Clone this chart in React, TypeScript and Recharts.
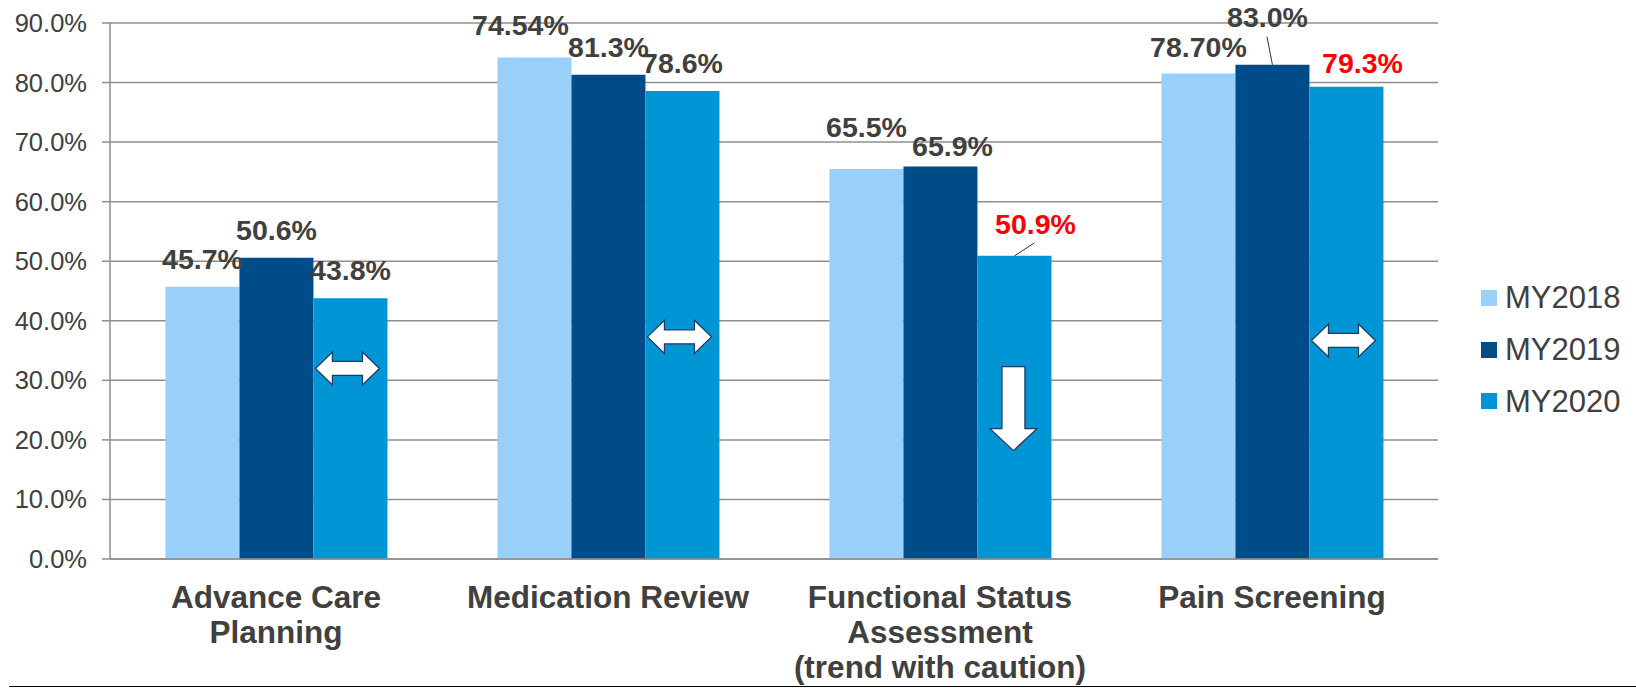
import React from 'react';
import { BarChart, Bar, XAxis, YAxis, CartesianGrid, LabelList } from 'recharts';

const categories = [
  'Advance Care\nPlanning',
  'Medication Review',
  'Functional Status\nAssessment\n(trend with caution)',
  'Pain Screening',
];

// bar heights as drawn
const my2018 = [45.7, 84.2, 65.5, 81.5];
const my2019 = [50.6, 81.3, 65.9, 83.0];
const my2020 = [43.8, 78.6, 50.9, 79.3];

// printed labels (some differ from the drawn bars)
const labels2018 = ['45.7%', '74.54%', '65.5%', '78.70%'];
const labels2019 = ['50.6%', '81.3%', '65.9%', '83.0%'];
const labels2020 = ['43.8%', '78.6%', '50.9%', '79.3%'];

// trend markers drawn on the MY2020 bars: kind and level in axis units
const trendKinds = ['both', 'both', 'down', 'both'];
const trendLevels = [32.0, 37.3, 32.3, 36.7];

const yTicks = [0, 10, 20, 30, 40, 50, 60, 70, 80, 90];

const seriesNames = ['MY2018', 'MY2019', 'MY2020'];
const colors = ['#99D0FA', '#004C88', '#0095D4'];

const data = categories.map((c, i) => ({
  category: c,
  y2018: my2018[i],
  y2019: my2019[i],
  y2020: my2020[i],
  l2018: labels2018[i],
  l2019: labels2019[i],
  l2020: labels2020[i],
}));

const FONT = '"Liberation Sans", Arial, sans-serif';
const TEXT = '#404040';

// hand placement of the data labels (dx from bar centre, gap above bar top)
const nudges: Record<string, { dx: number; gap: number; red?: boolean; leader?: [number, number] }[]> = {
  l2018: [{ dx: 0, gap: 18 }, { dx: -14, gap: 23 }, { dx: 0, gap: 32 }, { dx: 0, gap: 17 }],
  l2019: [{ dx: 0, gap: 18 }, { dx: 0, gap: 18 }, { dx: 12, gap: 11 }, { dx: -5, gap: 38, leader: [-5.5, -28] }],
  l2020: [{ dx: 0, gap: 18 }, { dx: 0, gap: 18 }, { dx: 21, gap: 22, red: true, leader: [20, -13] }, { dx: 16, gap: 14, red: true }],
};

const makeLabel = (key: string) => (props: any) => {
  const vb = props.viewBox || {};
  const x = props.x ?? vb.x;
  const y = props.y ?? vb.y;
  const width = props.width ?? vb.width;
  const idx = props.index ?? 0;
  const n = nudges[key][idx];
  const cx = x + width / 2;
  return (
    <g>
      {n.leader && (
        <line x1={cx + n.leader[0]} y1={y + n.leader[1]} x2={cx} y2={y} stroke="#333" strokeWidth={1} />
      )}
      <text
        x={cx + n.dx}
        y={y - n.gap}
        textAnchor="middle"
        fontFamily={FONT}
        fontWeight="bold"
        fontSize={28.5}
        fill={n.red ? '#FF0000' : TEXT}
      >
        {props.value}
      </text>
    </g>
  );
};

const TrendMark = (props: any) => {
  const vb = props.viewBox || {};
  const x = props.x ?? vb.x;
  const y = props.y ?? vb.y;
  const width = props.width ?? vb.width;
  const height = props.height ?? vb.height;
  const idx = props.index ?? 0;
  const value = my2020[idx];
  const px = height / value;
  const bottom = y + height;
  const cx = x + width / 2;
  const stroke = '#1d3c63';
  if (trendKinds[idx] === 'down') {
    const top = bottom - trendLevels[idx] * px;
    const len = 84;
    const headH = 22;
    const w = 47;
    const sw = 23;
    const x0 = cx - 1;
    const d = `M${x0 - sw / 2},${top} L${x0 + sw / 2},${top} L${x0 + sw / 2},${top + len - headH} L${x0 + w / 2},${top + len - headH} L${x0},${top + len} L${x0 - w / 2},${top + len - headH} L${x0 - sw / 2},${top + len - headH} Z`;
    return <path d={d} fill="#fff" stroke={stroke} strokeWidth={1.3} />;
  }
  const cy = bottom - trendLevels[idx] * px;
  const w = 64;
  const h = 33;
  const sh = 14;
  const head = 17;
  const x0 = cx - 3;
  const l = x0 - w / 2;
  const r = x0 + w / 2;
  const d = `M${l},${cy} L${l + head},${cy - h / 2} L${l + head},${cy - sh / 2} L${r - head},${cy - sh / 2} L${r - head},${cy - h / 2} L${r},${cy} L${r - head},${cy + h / 2} L${r - head},${cy + sh / 2} L${l + head},${cy + sh / 2} L${l + head},${cy + h / 2} Z`;
  return <path d={d} fill="#fff" stroke={stroke} strokeWidth={1.3} />;
};

const CategoryTick = (props: any) => {
  const { x, y, payload } = props;
  const lines = String(payload.value).split('\n');
  return (
    <g>
      {lines.map((ln, i) => (
        <text
          key={i}
          x={x}
          y={y + 47 + i * 35}
          textAnchor="middle"
          fontFamily={FONT}
          fontWeight="bold"
          fontSize={31.5}
          fill={TEXT}
        >
          {ln}
        </text>
      ))}
    </g>
  );
};

export default function App() {
  return (
    <div style={{ position: 'absolute', left: 0, top: 0, width: 1636, height: 688, background: '#fff', fontFamily: FONT }}>
      <BarChart
        width={1636}
        height={688}
        data={data}
        margin={{ top: 23, right: 198, bottom: 0, left: 0 }}
        barCategoryGap="16.7%"
        barGap={0}
      >
        <CartesianGrid vertical={false} stroke="#8e8e8e" strokeWidth={1.5} />
        <XAxis
          xAxisId="edges"
          type="number"
          domain={[0, 4]}
          ticks={[0, 1, 2, 3, 4]}
          height={0}
          tick={false}
          tickSize={9}
          axisLine={false}
          tickLine={{ stroke: '#8e8e8e', strokeWidth: 1.5 }}
        />
        <XAxis
          dataKey="category"
          height={129}
          interval={0}
          tickLine={false}
          tickSize={0}
          axisLine={{ stroke: '#8e8e8e', strokeWidth: 1.5 }}
          tick={<CategoryTick />}
        />
        <YAxis
          width={110}
          domain={[0, 90]}
          ticks={yTicks}
          interval={0}
          tickSize={8}
          tickMargin={15}
          tickFormatter={(v: number) => v.toFixed(1) + '%'}
          axisLine={{ stroke: '#8e8e8e', strokeWidth: 1.5 }}
          tickLine={{ stroke: '#8e8e8e', strokeWidth: 1.5 }}
          tick={{ fill: TEXT, fontSize: 25.5, fontFamily: FONT }}
        />
        <Bar dataKey="y2018" name={seriesNames[0]} fill={colors[0]} isAnimationActive={false}>
          <LabelList dataKey="l2018" content={makeLabel('l2018')} />
        </Bar>
        <Bar dataKey="y2019" name={seriesNames[1]} fill={colors[1]} isAnimationActive={false}>
          <LabelList dataKey="l2019" content={makeLabel('l2019')} />
        </Bar>
        <Bar dataKey="y2020" name={seriesNames[2]} fill={colors[2]} isAnimationActive={false}>
          <LabelList dataKey="l2020" content={makeLabel('l2020')} />
          <LabelList dataKey="y2020" content={TrendMark} />
        </Bar>
      </BarChart>

      {/* legend */}
      <div style={{ position: 'absolute', left: 1481, top: 272 }}>
        {seriesNames.map((s, i) => (
          <div key={s} style={{ display: 'flex', alignItems: 'center', height: 51.7 }}>
            <div style={{ width: 16, height: 16, background: colors[i], marginRight: 8 }} />
            <span style={{ fontSize: 31, color: TEXT, lineHeight: '31px' }}>{s}</span>
          </div>
        ))}
      </div>

      {/* bottom rule */}
      <div style={{ position: 'absolute', left: 9, top: 686, width: 1627, height: 0, borderTop: '1.5px solid #000' }} />
    </div>
  );
}
